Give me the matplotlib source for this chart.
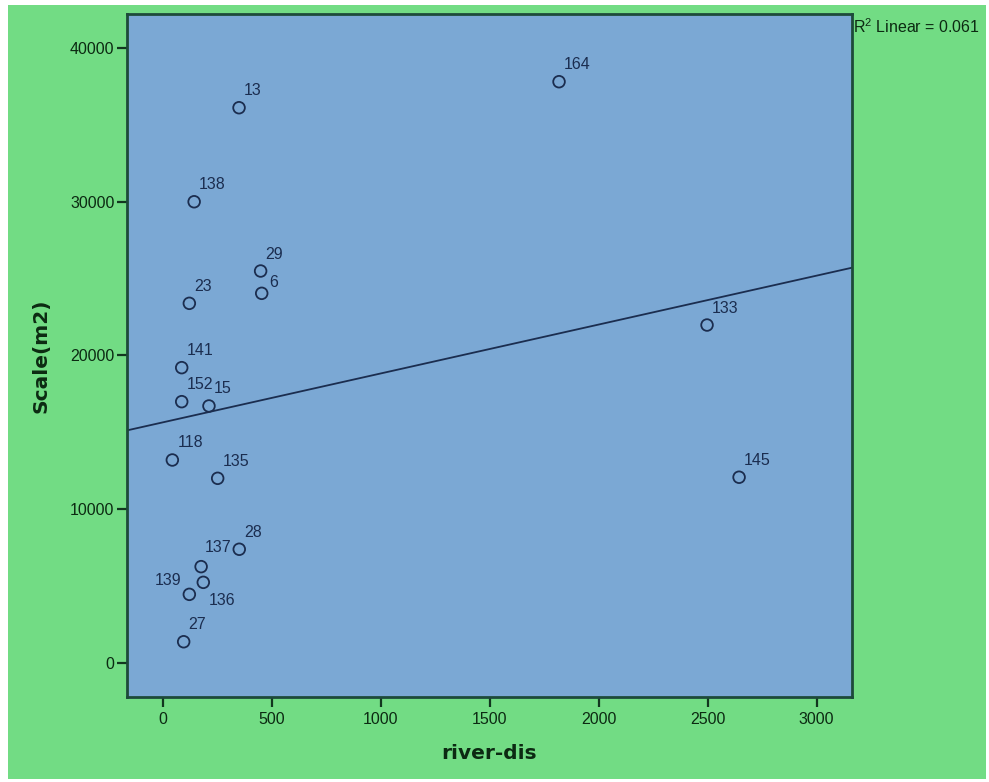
import numpy as np
import matplotlib
matplotlib.use('Agg')
import matplotlib.pyplot as plt
from matplotlib.patches import Rectangle

# case ids, river distance and scale
case_ids = ['13', '164', '138', '29', '6', '23', '133', '141', '152', '15',
            '118', '135', '145', '28', '137', '136', '139', '27']
river_dis = [350, 1818, 144, 449, 454, 122, 2497, 87, 87, 212,
             44, 252, 2644, 351, 176, 186, 122, 96]
scale_m2 = [36100, 37790, 29990, 25490, 24040, 23390, 21980, 19210, 17000, 16720,
            13210, 12020, 12090, 7410, 6280, 5260, 4480, 1400]
r2_text = 'R$^2$ Linear = 0.061'

x_ticks = [0, 500, 1000, 1500, 2000, 2500, 3000]
y_ticks = [0, 10000, 20000, 30000, 40000]

# label placement (pixel offsets from the marker), default is up-right
label_offsets = {'6': (8, 11, 'left'), '136': (5, -18, 'left'),
                 '139': (-8, 14, 'right'), '137': (4, 19, 'left')}

green = '#72dc84'
blue = '#7ba8d4'
navy = '#1b2d4f'
dark = '#12361f'

plt.rcParams['font.family'] = ['Liberation Sans', 'DejaVu Sans']
plt.rcParams['mathtext.fontset'] = 'custom'
plt.rcParams['mathtext.rm'] = 'Liberation Sans'

fig = plt.figure(figsize=(9.89, 7.82), dpi=100, facecolor='white')
fig.patches.append(Rectangle((8 / 989, 3 / 782), 978 / 989, 774 / 782,
                             transform=fig.transFigure, facecolor=green,
                             edgecolor='none', zorder=-5))
ax = fig.add_axes([127 / 989, 1 - 697 / 782, 725 / 989, 683 / 782])
ax.set_facecolor(blue)

x = np.array(river_dis, dtype=float)
y = np.array(scale_m2, dtype=float)

ax.scatter(x, y, s=70, facecolors='none', edgecolors=navy, linewidths=1.3, zorder=3)

for cid, xi, yi in zip(case_ids, x, y):
    dx, dy, ha = label_offsets.get(cid, (5, 17, 'left'))
    ax.annotate(cid, (xi, yi), xytext=(dx, dy), textcoords='offset pixels',
                ha=ha, va='center', fontsize=11.5, color=navy, zorder=4)

# linear fit
slope, intercept = np.polyfit(x, y, 1)
xlim = (-164, 3162)
xx = np.array(xlim)
ax.plot(xx, intercept + slope * xx, color=navy, lw=1.3, zorder=2)

ax.set_xlim(xlim)
ax.set_ylim(-2190, 42190)
ax.set_xticks(x_ticks)
ax.set_yticks(y_ticks)
ax.tick_params(axis='both', direction='out', length=7, width=1.6, color=dark,
               labelcolor='#0c2a12', labelsize=11.5)
ax.tick_params(axis='y', pad=2)
ax.tick_params(axis='x', pad=4)
for sp in ax.spines.values():
    sp.set_color('#1d4a3a')
    sp.set_linewidth(2)

ax.set_xlabel('river-dis', fontsize=14.5, fontweight='bold', color='#0c2a12',
              labelpad=12, family='DejaVu Sans')
ax.set_ylabel('Scale(m2)', fontsize=14.5, fontweight='bold', color='#0c2a12',
              labelpad=14, family='DejaVu Sans')

fig.text(853 / 989, 1 - 27 / 782, r2_text, ha='left', va='center', fontsize=11.5,
         color='#0c2a12')

fig.savefig('out.png', dpi=100, facecolor='white')
